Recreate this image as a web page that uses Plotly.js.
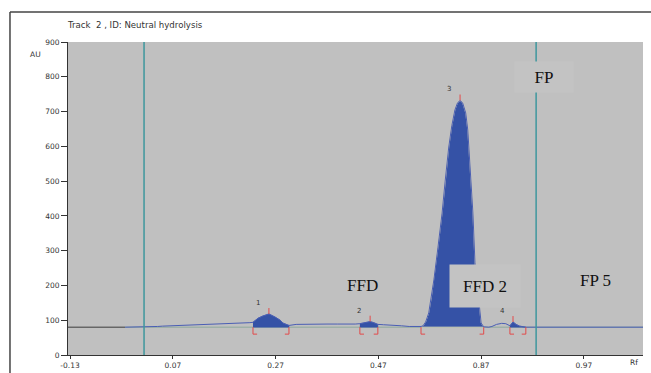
<!DOCTYPE html>
<html>
<head>
<meta charset="utf-8">
<script src="https://cdn.plot.ly/plotly-3.0.1.min.js"></script>
<style>html,body{margin:0;padding:0;background:#fff;}#chart{width:651px;height:373px;}</style>
</head>
<body>
<div id="chart"></div>
<script>
// Densitogram trace (Rf, AU)
const traceRf = [-0.023, 0.031, 0.040, 0.050, 0.070, 0.090, 0.110, 0.130, 0.150, 0.170, 0.190, 0.205, 0.220,
  0.226, 0.236, 0.245, 0.257, 0.269, 0.279, 0.284, 0.294, 0.296,
  0.310, 0.330, 0.350, 0.370, 0.390, 0.410, 0.425,
  0.434, 0.443, 0.454, 0.461, 0.469,
  0.480, 0.500, 0.515, 0.530, 0.545,
  0.553, 0.557, 0.562, 0.568, 0.573, 0.578, 0.586, 0.594, 0.600, 0.607, 0.613, 0.619, 0.624, 0.629, 0.634, 0.640, 0.644, 0.646, 0.650, 0.654, 0.658, 0.664, 0.670, 0.675,
  0.685, 0.691, 0.700, 0.710, 0.718,
  0.726, 0.732, 0.738, 0.745, 0.757,
  0.777, 0.985];
const traceAU = [80, 80, 82, 83, 84, 85, 87, 88, 88, 90, 91, 92, 93,
  94, 106, 112, 118, 109, 100, 92, 86, 85,
  88, 89, 88, 89, 89, 88, 89,
  90, 93, 96, 93, 88,
  87, 86, 84, 82, 81,
  82, 84, 95, 121, 165, 216, 310, 408, 500, 598, 660, 705, 725, 732, 725, 696, 647, 598, 500, 408, 265, 167, 92, 81,
  80, 82, 88, 91, 90,
  84, 95, 88, 83, 80,
  80, 80];

// Integrated peaks
const peakNames = ["1", "2", "3", "4"];
const peakStart = [0.226, 0.434, 0.553, 0.726];
const peakEnd = [0.296, 0.469, 0.675, 0.757];
const peakApexRf = [0.257, 0.454, 0.629, 0.732];
const peakApexAU = [118, 96, 732, 95];
const baselineAU = 80;

// Front / start lines (Rf)
const markerLines = [0.014, 0.777];

// Axis ticks
const xTickVals = [-0.13, 0.07, 0.27, 0.47, 0.67, 0.87];
const xTickText = ["-0.13", "0.07", "0.27", "0.47", "0.87", "0.97"];
const yTickVals = [0, 100, 200, 300, 400, 500, 600, 700, 800, 900];

// Text labels
const labelText = ["FFD", "FFD 2", "FP", "FP 5"];
const labelRf = [0.440, 0.677, 0.792, 0.893];
const labelAU = [201, 198, 799, 213];

const fillColor = "#3552a6";
const lineBlue = "#4a5eb4";
const red = "#e24a4a";
const sans = "DejaVu Sans, Verdana, sans-serif";

const traces = [];
// baseline
traces.push({x: [-0.135, traceRf[0]], y: [baselineAU, baselineAU], mode: "lines",
  line: {color: "#3a3a3a", width: 1}, hoverinfo: "skip", showlegend: false});
traces.push({x: [traceRf[0], 0.985], y: [baselineAU, baselineAU], mode: "lines",
  line: {color: "#8ea89c", width: 1}, hoverinfo: "skip", showlegend: false});
// peak fills
for (let i = 0; i < peakNames.length; i++) {
  const px = [], py = [];
  for (let j = 0; j < traceRf.length; j++) {
    if (traceRf[j] >= peakStart[i] - 1e-9 && traceRf[j] <= peakEnd[i] + 1e-9) { px.push(traceRf[j]); py.push(traceAU[j]); }
  }
  px.push(peakEnd[i], peakStart[i]);
  py.push(baselineAU, baselineAU);
  traces.push({x: px, y: py, mode: "lines", fill: "toself", fillcolor: fillColor,
    line: {color: i === 2 ? "#d8d4b8" : fillColor, width: i === 2 ? 1 : 0.5},
    hoverinfo: "skip", showlegend: false});
}
// main trace
traces.push({x: traceRf, y: traceAU, mode: "lines", line: {color: lineBlue, width: 1},
  hoverinfo: "skip", showlegend: false});

const shapes = [];
markerLines.forEach(v => shapes.push({type: "line", xref: "x", yref: "paper", x0: v, x1: v, y0: 0, y1: 1,
  line: {color: "#3e979d", width: 1.5}}));
const drop = 20, foot = 0.008, tick = 17;
for (let i = 0; i < peakNames.length; i++) {
  shapes.push({type: "path", xref: "x", yref: "y",
    path: `M ${peakStart[i]},${baselineAU} L ${peakStart[i]},${baselineAU - drop} L ${peakStart[i] + foot},${baselineAU - drop}`,
    line: {color: red, width: 1}});
  shapes.push({type: "path", xref: "x", yref: "y",
    path: `M ${peakEnd[i]},${baselineAU} L ${peakEnd[i]},${baselineAU - drop} L ${peakEnd[i] - foot},${baselineAU - drop}`,
    line: {color: red, width: 1}});
  shapes.push({type: "line", xref: "x", yref: "y", x0: peakApexRf[i], x1: peakApexRf[i],
    y0: peakApexAU[i], y1: peakApexAU[i] + tick, line: {color: red, width: 1}});
}
// outer frame
shapes.push({type: "line", xref: "paper", yref: "paper", x0: -0.1009, x1: 1.02, y0: 1.0958, y1: 1.0958,
  line: {color: "#444", width: 1.5}});
shapes.push({type: "line", xref: "paper", yref: "paper", x0: -0.1009, x1: -0.1009, y0: 1.0958, y1: -0.07,
  line: {color: "#444", width: 1.5}});

const annotations = [];
for (let i = 0; i < peakNames.length; i++) {
  annotations.push({x: peakApexRf[i], y: peakApexAU[i], xref: "x", yref: "y", text: peakNames[i],
    showarrow: false, xshift: -11, yshift: 11, font: {family: sans, size: 7, color: "#333"}});
}
const boxW = [0, 70, 58, 0], boxH = [0, 42, 30, 0];
for (let i = 0; i < labelText.length; i++) {
  const a = {x: labelRf[i], y: labelAU[i], xref: "x", yref: "y", text: labelText[i], showarrow: false,
    font: {family: "Liberation Serif, Times New Roman, serif", size: 17, color: "#111"}};
  if (boxW[i]) { a.width = boxW[i]; a.height = boxH[i]; a.bgcolor = "#c3c3c3"; a.borderpad = 0; }
  annotations.push(a);
}
annotations.push({xref: "paper", yref: "paper", x: -0.0696, y: 0.981, text: "AU", showarrow: false,
  font: {family: sans, size: 7.5, color: "#333"}});
annotations.push({xref: "paper", yref: "paper", x: 0.995, y: -0.045, text: "Rf", showarrow: false,
  font: {family: sans, size: 7.5, color: "#333"}});

const layout = {
  width: 651, height: 373,
  margin: {l: 68, r: 8, t: 42, b: 18, pad: 0},
  paper_bgcolor: "#ffffff", plot_bgcolor: "#c0c0c0",
  title: {text: "Track  2 , ID: Neutral hydrolysis", xref: "container", yref: "container",
    x: 68 / 651, xanchor: "left", y: 1 - 25 / 373, yanchor: "middle",
    font: {family: sans, size: 8.6, color: "#333"}},
  xaxis: {range: [-0.134, 0.985], tickvals: xTickVals, ticktext: xTickText, showgrid: false, zeroline: false,
    showline: true, linecolor: "#333", linewidth: 1, ticks: "outside", ticklen: 3, tickcolor: "#333",
    tickfont: {family: sans, size: 7.5, color: "#333"}},
  yaxis: {range: [0, 900], tickvals: yTickVals, showgrid: false, zeroline: false,
    showline: true, linecolor: "#333", linewidth: 1, ticks: "outside", ticklen: 6, tickcolor: "#333",
    tickfont: {family: sans, size: 7.5, color: "#333"}},
  shapes: shapes, annotations: annotations, showlegend: false
};
Plotly.newPlot("chart", traces, layout, {staticPlot: true, displayModeBar: false});
</script>
</body>
</html>
